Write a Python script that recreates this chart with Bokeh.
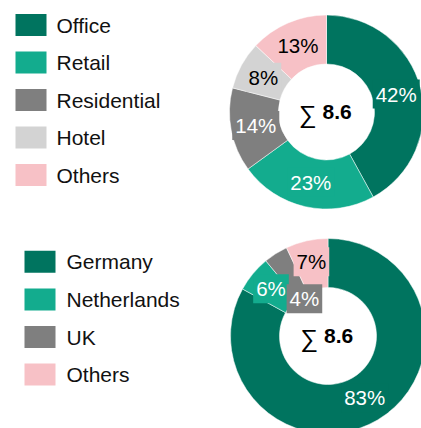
import numpy as np
from bokeh.plotting import figure
from bokeh.models import ColumnDataSource, Range1d
from bokeh.core.properties import value
from bokeh.embed import file_html
from bokeh.resources import INLINE

# ---- data ----
type_labels = ["Office", "Retail", "Residential", "Hotel", "Others"]
type_values = [42, 23, 14, 8, 13]
type_total = "8.6"

country_labels = ["Germany", "Netherlands", "UK", "Others"]
country_values = [83, 6, 4, 7]
country_total = "8.6"

# ---- styles ----
type_colors = ["#00745F", "#13AC8E", "#7F7F7F", "#D3D3D3", "#F7C1C6"]
type_text_colors = ["white", "white", "white", "black", "black"]
country_colors = ["#00745F", "#13AC8E", "#7F7F7F", "#F7C1C6"]
country_text_colors = ["white", "white", "white", "black"]

W, H = 421, 428
FONT = "Liberation Sans"


def px(x):  # picture x -> data x
    return x


def py(y):  # picture y -> data y
    return H - y


p = figure(width=W, height=H, output_backend="svg", toolbar_location=None,
           x_range=Range1d(0, W), y_range=Range1d(0, H), min_border=0)
p.axis.visible = False
p.grid.visible = False
p.outline_line_color = None
p.background_fill_color = "white"
p.border_fill_color = "white"


def donut(labels, vals, colors, tcolors, total, cx, cy, r_in, r_out, label_r,
          lx, ly0, dy, tx):
    v = np.array(vals, dtype=float)
    frac = v / v.sum()
    cum = np.concatenate([[0.0], np.cumsum(frac)])
    hi = np.pi / 2 - 2 * np.pi * cum[:-1]
    lo = np.pi / 2 - 2 * np.pi * cum[1:]
    mid = (hi + lo) / 2
    n = len(vals)
    lr = np.array(label_r, dtype=float)
    src = ColumnDataSource(dict(
        start=lo, end=hi, color=colors, tcolor=tcolors,
        lx=cx + lr * np.cos(mid), ly=cy + lr * np.sin(mid),
        txt=[f"{round(f * 100):.0f}%" for f in frac],
        sq_x=[px(lx)] * n,
        sq_y=[py(ly0 + i * dy) for i in range(n)],
        name=labels,
        nx=[px(tx)] * n,
    ))
    p.annular_wedge(x=cx, y=cy, inner_radius=r_in, outer_radius=r_out,
                    start_angle="start", end_angle="end", direction="anticlock",
                    fill_color="color", line_color="white", line_width=0.5,
                    source=src)
    p.text(x="lx", y="ly", text="txt", text_color="tcolor",
           text_font=value(FONT), text_font_size="20.5px",
           text_align="center", text_baseline="middle",
           background_fill_color="color", padding=3, source=src)
    # centre total
    p.text(x=[cx - 10], y=[cy - 1.5], text=["\u2211"], text_font=value(FONT),
           text_font_size="25px", text_align="right", text_baseline="middle",
           text_color="black")
    p.text(x=[cx - 4], y=[cy], text=[total], text_font=value(FONT),
           text_font_size="21px", text_font_style="bold", text_align="left",
           text_baseline="middle", text_color="black")
    # legend
    p.rect(x="sq_x", y="sq_y", width=31, height=22, fill_color="color",
           line_color=None, source=src)
    p.text(x="nx", y="sq_y", text="name", text_font=value(FONT),
           text_font_size="21px", text_align="left", text_baseline="middle",
           text_color="#111111", source=src)


donut(type_labels, type_values, type_colors, type_text_colors, type_total,
      cx=px(326), cy=py(111.5), r_in=48, r_out=97,
      label_r=[72, 72, 72, 72, 72],
      lx=30.5, ly0=24.5, dy=37.5, tx=56)

donut(country_labels, country_values, country_colors, country_text_colors,
      country_total,
      cx=px(327.5), cy=py(335.5), r_in=48.5, r_out=97.5,
      label_r=[72, 74, 44, 76],
      lx=39.5, ly0=261.3, dy=37.6, tx=66)

open("out.html", "w").write(file_html(p, INLINE))
